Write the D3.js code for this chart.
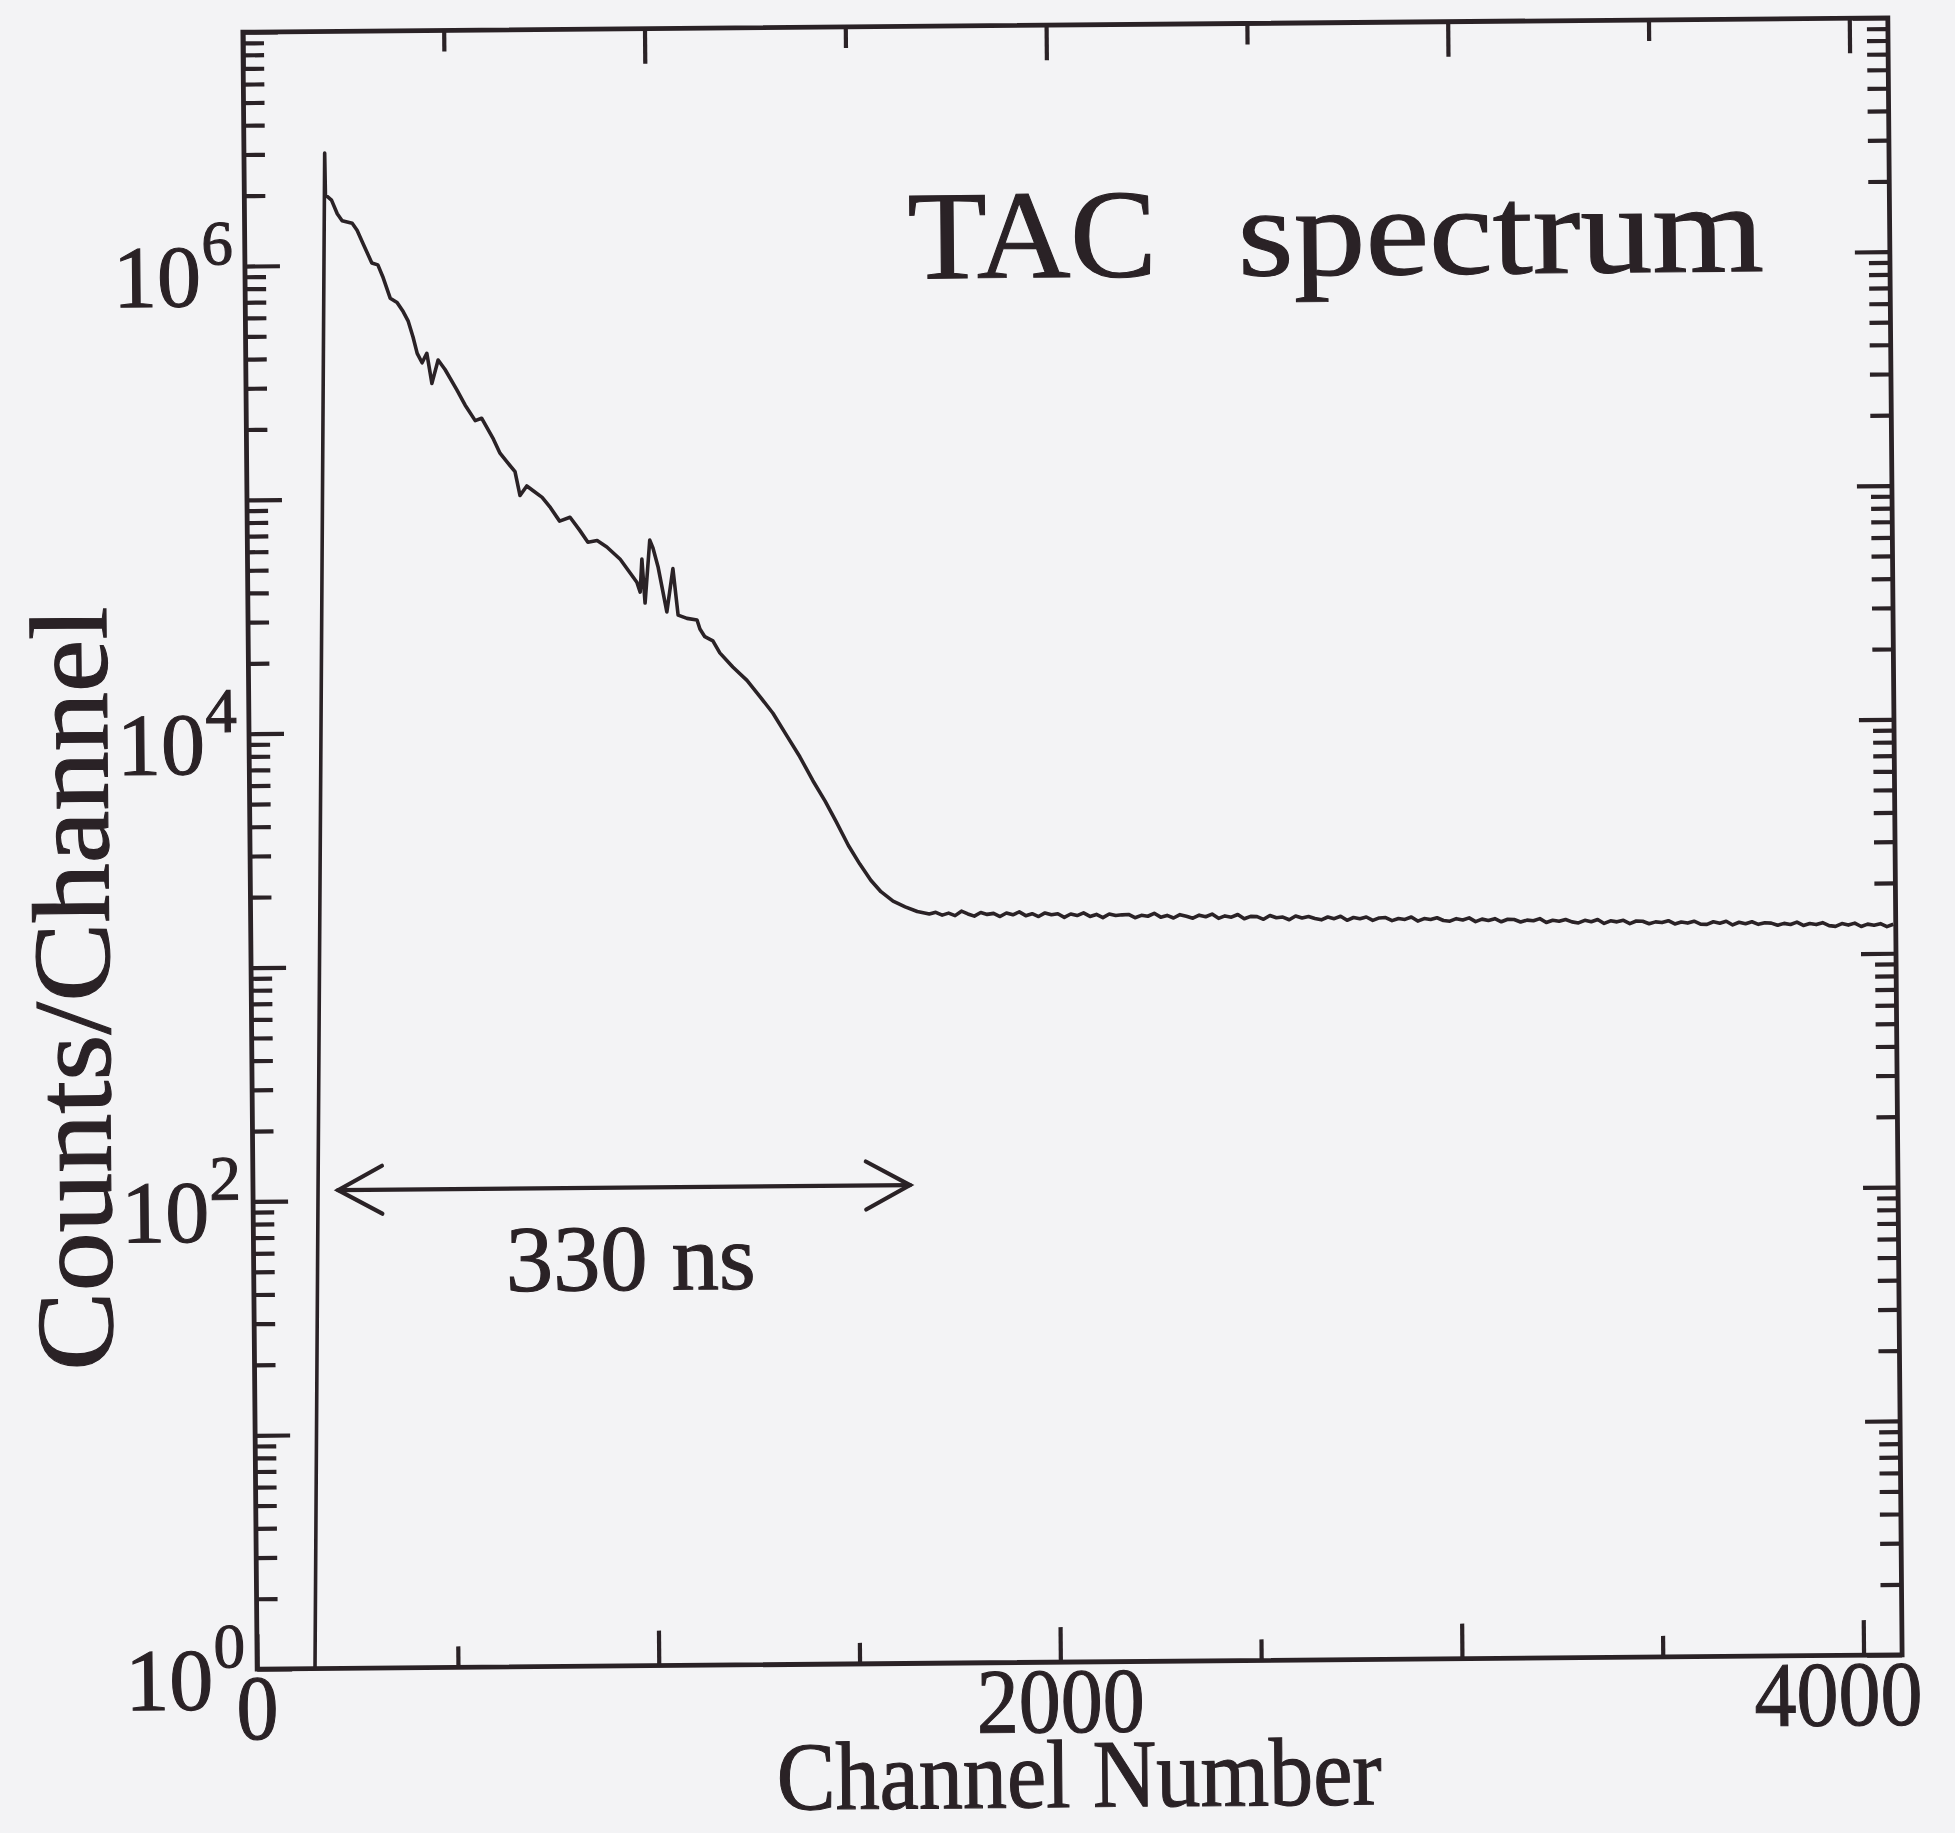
<!DOCTYPE html>
<html>
<head>
<meta charset="utf-8">
<script src="https://cdn.jsdelivr.net/npm/d3@7"></script>
<style>
  html, body { margin: 0; padding: 0; background: #f3f3f5; }
  svg { display: block; }
</style>
</head>
<body>
<svg id="chart" width="1955" height="1833"></svg>
<script>
// ---- Spectrum data: rising edge, prompt peak and decay ----
const decayChannels = [
  144, 201, 202, 217, 231, 243, 268, 280, 295, 316, 331, 343, 361, 378, 393, 405,
  417, 427, 439, 451, 463, 479, 496, 525, 545, 570, 586, 615, 631, 668, 680, 697,
  712, 735, 754, 778, 804, 828, 848, 871, 895, 928, 969, 977, 982, 989, 1002, 1010,
  1022, 1043, 1059, 1071, 1093, 1118, 1125, 1137, 1157, 1174, 1206, 1241, 1273, 1305,
  1340, 1371, 1403, 1433, 1460, 1490, 1518, 1545, 1570, 1600, 1630, 1660, 1690
];
const decayCounts = [
  1, 3.02e6, 2.0e6, 1.9e6, 1.66e6, 1.55e6, 1.51e6, 1.41e6, 1.23e6, 1.02e6, 1.0e6, 8.9e5, 7.2e5, 6.9e5, 6.3e5, 5.75e5,
  4.9e5, 4.17e5, 3.8e5, 4.17e5, 3.1e5, 3.9e5, 3.55e5, 2.9e5, 2.5e5, 2.14e5, 2.19e5, 1.78e5, 1.55e5, 1.29e5, 1.02e5, 1.12e5,
  1.07e5, 1.0e5, 9.1e4, 7.9e4, 8.2e4, 7.2e4, 6.4e4, 6.5e4, 6.1e4, 5.4e4, 4.3e4, 3.9e4, 5.4e4, 3.5e4, 6.5e4, 6.0e4,
  5.0e4, 3.2e4, 4.9e4, 3.1e4, 3.0e4, 2.95e4, 2.7e4, 2.5e4, 2.4e4, 2.13e4, 1.85e4, 1.62e4, 1.38e4, 1.17e4,
  9.3e3, 7.6e3, 6.0e3, 4.9e3, 4.0e3, 3.16e3, 2.63e3, 2.24e3, 2.0e3, 1.82e3, 1.72e3, 1.64e3, 1.6e3
];

// ---- Flat random-coincidence background, one reading every 16 channels ----
const flatStart = 1706;
const flatStep = 16;
const flatCounts = [
  1625, 1580, 1610, 1570, 1640, 1595, 1560, 1615, 1585, 1600,
  1550, 1605, 1575, 1620, 1560, 1590, 1545, 1600, 1570, 1585,
  1530, 1580, 1555, 1595, 1540, 1570, 1520, 1575, 1550, 1560,
  1565, 1515, 1550, 1535, 1580, 1520, 1545, 1505, 1555, 1530,
  1500, 1545, 1520, 1560, 1495, 1530, 1510, 1550, 1485, 1520,
  1515, 1475, 1530, 1495, 1505, 1465, 1520, 1490, 1510, 1480,
  1460, 1500, 1475, 1510, 1450, 1490, 1470, 1495, 1445, 1480,
  1485, 1440, 1470, 1455, 1490, 1430, 1465, 1450, 1475, 1435,
  1425, 1460, 1440, 1470, 1415, 1450, 1430, 1455, 1410, 1445,
  1440, 1405, 1430, 1420, 1450, 1395, 1425, 1410, 1435, 1400,
  1385, 1420, 1400, 1430, 1375, 1410, 1395, 1415, 1370, 1405,
  1400, 1365, 1390, 1380, 1405, 1360, 1385, 1370, 1395, 1355,
  1350, 1385, 1365, 1390, 1340, 1375, 1355, 1380, 1345, 1365,
  1360, 1330, 1355, 1340, 1370, 1325, 1350, 1335, 1360, 1320,
  1310, 1345, 1325, 1350, 1305, 1335, 1320, 1340, 1300, 1330
];

// ---- Axis ticks and labels ----
const xMajorTicks = [0, 1000, 2000, 3000, 4000];
const xMinorTicks = [500, 1500, 2500, 3500];
const xTickLabels = [0, 2000, 4000];
const yDecades = [1, 10, 100, 1e3, 1e4, 1e5, 1e6, 1e7];
const yLabelExponents = [0, 2, 4, 6];

// ---- Annotations ----
const titleWords = ["TAC", "spectrum"];
const spanArrow = { from: 212, to: 1636, level: 111, label: "330 ns" };
const xTitle = "Channel Number";
const yTitle = "Counts/Channel";

// ---- Layout ----
const W = 1955, H = 1833;
const plot = { left: 250, right: 1895, top: 25, bottom: 1662 };
const ink = "#2a2226";
const serif = "'Liberation Serif', 'Times New Roman', serif";
const digitWidth = 42;   // set width of one numeral in the x tick labels

const x = d3.scaleLinear().domain([0, 4096]).range([plot.left, plot.right]);
const y = d3.scaleLog().domain([1, 1e7]).range([plot.bottom, plot.top]);

const spectrum = decayChannels.map((c, i) => ({ ch: c, n: decayCounts[i] }))
  .concat(flatCounts.map((n, i) => ({ ch: flatStart + i * flatStep, n })));

const svg = d3.select("#chart");
svg.append("rect").attr("width", W).attr("height", H).attr("fill", "#f3f3f5");

// the whole figure sits at a slight counter-clockwise tilt
const cx = (plot.left + plot.right) / 2, cy = (plot.top + plot.bottom) / 2;
const g = svg.append("g").attr("transform", `rotate(-0.5 ${cx} ${cy})`);

g.append("clipPath").attr("id", "plotClip")
  .append("rect")
  .attr("x", plot.left).attr("y", plot.top)
  .attr("width", plot.right - plot.left).attr("height", plot.bottom - plot.top);

// spectrum trace
g.append("path")
  .datum(spectrum)
  .attr("clip-path", "url(#plotClip)")
  .attr("fill", "none")
  .attr("stroke", ink)
  .attr("stroke-width", 3.6)
  .attr("stroke-linejoin", "round")
  .attr("d", d3.line().x(d => x(d.ch)).y(d => y(d.n)));

// inward ticks on all four sides
function ticks(axisFn, scale, values, size, tx, ty) {
  const a = g.append("g")
    .attr("transform", `translate(${tx},${ty})`)
    .call(axisFn(scale).tickValues(values).tickSize(-size).tickFormat(""));
  a.select(".domain").remove();
  a.selectAll("line").attr("stroke", ink).attr("stroke-width", 4.2);
}
const yMinorTicks = [];
yDecades.slice(0, -1).forEach(d => { for (let m = 2; m <= 9; m++) yMinorTicks.push(d * m); });

ticks(d3.axisBottom, x, xMajorTicks, 35, 0, plot.bottom);
ticks(d3.axisBottom, x, xMinorTicks, 21, 0, plot.bottom);
ticks(d3.axisTop, x, xMajorTicks, 35, 0, plot.top);
ticks(d3.axisTop, x, xMinorTicks, 21, 0, plot.top);
ticks(d3.axisLeft, y, yDecades, 35, plot.left, 0);
ticks(d3.axisLeft, y, yMinorTicks, 21, plot.left, 0);
ticks(d3.axisRight, y, yDecades, 35, plot.right, 0);
ticks(d3.axisRight, y, yMinorTicks, 21, plot.right, 0);

// frame
g.append("rect")
  .attr("x", plot.left).attr("y", plot.top)
  .attr("width", plot.right - plot.left).attr("height", plot.bottom - plot.top)
  .attr("fill", "none").attr("stroke", ink).attr("stroke-width", 4.8);

// all lettering shares one inked serif style
const letters = g.append("g")
  .attr("font-family", serif).attr("fill", ink)
  .attr("stroke", ink).attr("stroke-width", 1.1);

// y tick labels: 10 with a raised exponent
yLabelExponents.forEach(e => {
  const ty = y(Math.pow(10, e));
  letters.append("text").attr("x", plot.left - 44).attr("y", ty + 40)
    .attr("text-anchor", "end").attr("font-size", 88).text("10");
  letters.append("text").attr("x", plot.left - 12).attr("y", ty - 2)
    .attr("text-anchor", "end").attr("font-size", 63).text(String(e));
});

// x tick labels, the last one kept clear of the page edge
letters.append("g")
  .selectAll("text").data(xTickLabels).join("text")
  .attr("x", d => Math.min(x(d), W - 40 - String(d).length * digitWidth / 2))
  .attr("y", plot.bottom + 70)
  .attr("text-anchor", "middle").attr("font-size", 92)
  .attr("textLength", d => String(d).length * digitWidth)
  .attr("lengthAdjust", "spacingAndGlyphs")
  .text(d => d);

// axis titles
letters.append("text")
  .attr("font-size", 97)
  .attr("text-anchor", "middle")
  .attr("x", 1071).attr("y", 1807)
  .attr("textLength", 605).attr("lengthAdjust", "spacingAndGlyphs")
  .text(xTitle);

letters.append("text")
  .attr("font-size", 110)
  .attr("text-anchor", "middle")
  .attr("transform", "translate(108,980) rotate(-90)")
  .attr("textLength", 764).attr("lengthAdjust", "spacingAndGlyphs")
  .text(yTitle);

// title
letters.append("text").attr("x", 913).attr("y", 277).attr("font-size", 126)
  .attr("textLength", 249).attr("lengthAdjust", "spacingAndGlyphs").text(titleWords[0]);
letters.append("text").attr("x", 1243).attr("y", 277).attr("font-size", 126)
  .attr("textLength", 526).attr("lengthAdjust", "spacingAndGlyphs").text(titleWords[1]);

// double-headed arrow marking the 330 ns range
const ay = y(spanArrow.level), ax0 = x(spanArrow.from), ax1 = x(spanArrow.to);
const arrow = g.append("g").attr("stroke", ink).attr("stroke-width", 4.2).attr("fill", "none")
  .attr("stroke-linecap", "round").attr("stroke-linejoin", "miter");
arrow.append("line").attr("x1", ax0).attr("x2", ax1).attr("y1", ay).attr("y2", ay);
arrow.append("polyline").attr("points", `${ax0 + 44},${ay - 24} ${ax0},${ay} ${ax0 + 44},${ay + 24}`);
arrow.append("polyline").attr("points", `${ax1 - 44},${ay - 24} ${ax1},${ay} ${ax1 - 44},${ay + 24}`);

letters.append("text")
  .attr("font-size", 94)
  .attr("x", 502).attr("y", 1286)
  .attr("textLength", 250).attr("lengthAdjust", "spacingAndGlyphs")
  .text(spanArrow.label);
</script>
</body>
</html>
